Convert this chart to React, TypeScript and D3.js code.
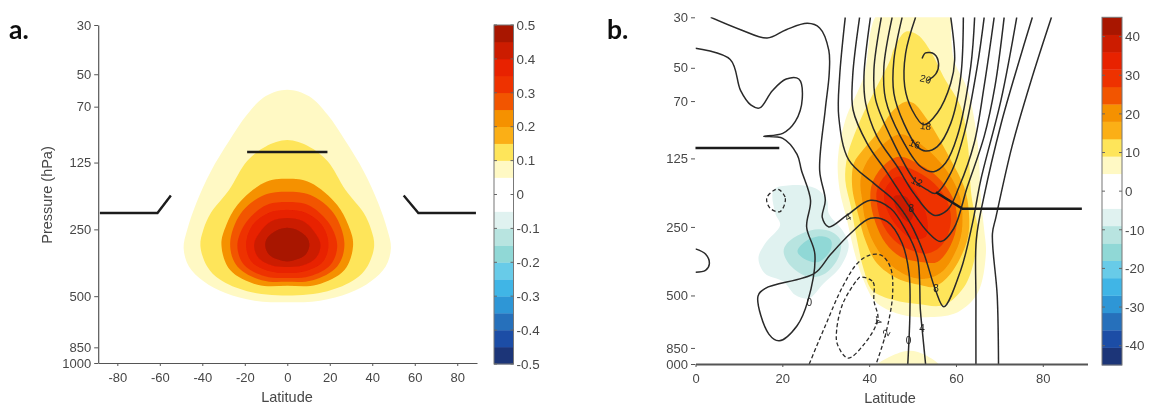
import React, { useRef, useEffect } from 'react';
import * as d3 from 'd3';

type Pt = [number, number]; // [latitude, pressure hPa]

const pressureTicks = [30, 50, 70, 125, 250, 500, 850, 1000];
const latTicksA = [-80, -60, -40, -20, 0, 20, 40, 60, 80];
const latTicksB = [0, 20, 40, 60, 80];
const barTicksA = [0.5, 0.4, 0.3, 0.2, 0.1, 0, -0.1, -0.2, -0.3, -0.4, -0.5];
const barTicksB = [40, 30, 20, 10, 0, -10, -20, -30, -40];

// colour bar, low to high
const barColors = [
  '#1a3478', '#1f4ea6', '#2870bb', '#2f96d6', '#3fb5e6', '#68cbe8', '#90d8d6', '#b8e4e0', '#e0f2f0', '#ffffff',
  '#ffffff', '#fff9c4', '#fee55a', '#fbaf17', '#f59100', '#f25500', '#ee3300', '#e82000', '#cc1c00', '#a81400',
];

// panel a: filled bands, right half only (the field is symmetric about the equator)
const bandsA: { color: string; half: Pt[] }[] = [
  { color: '#fff9c4', half: [[0, 58.7], [10.3, 62.9], [18.9, 76], [27.4, 100], [36, 137], [42.8, 190], [47.1, 251], [48.8, 303], [46.3, 367], [39.4, 428], [29.1, 484], [15.4, 524], [0, 533]] },
  { color: '#fee55a', half: [[0, 99], [10.3, 106], [18.9, 123], [27.4, 166], [36, 211], [39.5, 251], [40.9, 296], [37.7, 367], [31.7, 421], [18.9, 475], [0, 497]] },
  { color: '#f59100', half: [[0, 148], [10.9, 154], [23.5, 194], [28.7, 239], [31, 293], [26.9, 381], [14, 444], [0, 449]] },
  { color: '#f25500', half: [[0, 169], [10.9, 175], [21.9, 212], [26.9, 290], [23.5, 367], [12, 424], [0, 431]] },
  { color: '#ee3300', half: [[0, 188], [9.8, 194], [19, 230], [23.5, 293], [20.4, 361], [10.5, 407], [0, 414]] },
  { color: '#e82000', half: [[0, 204], [9, 211], [16.9, 243], [19.4, 293], [16.9, 349], [9, 385], [0, 393]] },
  { color: '#cc1c00', half: [[0, 222], [7.5, 230], [13, 259], [15.6, 293], [13.5, 336], [7.1, 364], [0, 369]] },
  { color: '#a81400', half: [[0, 246], [5.1, 253], [9.4, 273], [10.4, 296], [8.6, 325], [4.3, 342], [0, 349]] },
];
const tropopauseA: Pt[][] = [
  [[-88.2, 211], [-61.1, 211], [-54.8, 176]],
  [[-18.9, 112], [18.9, 112]],
  [[54.8, 176], [61.7, 211], [88.8, 211]],
];

// panel b: filled bands
const bandsB: { color: string; pts: Pt[] }[] = [
  { color: '#fff9c4', pts: [[42.6, 28], [38.7, 55], [34.5, 85], [32.8, 125], [33.2, 172], [34.9, 233], [36.5, 317], [38.4, 414], [41.1, 524], [44, 575], [48.8, 615], [54.2, 622], [60.4, 592], [65, 488], [66.9, 326], [66.5, 258], [65.7, 184], [65, 107], [62.7, 62.6], [59.5, 46], [58.8, 30], [58.5, 27]] },
  { color: '#fff9c4', pts: [[42, 1010], [45, 925], [49.3, 875], [53, 915], [56, 1010]] },
  { color: '#fee55a', pts: [[48.4, 34.7], [45.6, 41.7], [44.9, 46], [41, 64.5], [38.7, 79], [36.1, 104], [34.9, 124], [34.5, 156], [35.8, 204], [37.2, 285], [38.8, 387], [40.7, 474], [45.7, 524], [51.1, 545], [57.2, 551], [61.9, 458], [64.2, 350], [65, 258], [63.6, 184], [62.7, 107], [61.1, 74], [57.2, 55], [54.2, 42.4], [51.2, 35.9]] },
  { color: '#fbaf17', pts: [[48.4, 70.4], [45.6, 76.6], [41.9, 96.6], [38.5, 115], [36.5, 131], [36.1, 167], [37.6, 225], [39.1, 285], [41.8, 361], [46.5, 421], [51.8, 450], [54.9, 458], [58.8, 400], [62.6, 285], [63, 218], [61.9, 167], [58.8, 127], [55.8, 100], [53.5, 85], [50.2, 71.4]] },
  { color: '#f59100', pts: [[47.2, 98], [42.6, 111], [39.5, 129], [38, 156], [38.4, 191], [39.1, 233], [41.1, 295], [44.5, 361], [49.5, 414], [53.4, 421], [57.2, 387], [60.7, 295], [61.5, 233], [60.7, 178], [57.2, 136], [52.6, 111]] },
  { color: '#f25500', pts: [[46.9, 123], [43.4, 134], [40.7, 161], [40.3, 191], [41.5, 241], [43.8, 295], [47.2, 338], [51.9, 356], [55.7, 356], [58.8, 300], [60.2, 241], [59.5, 191], [56.1, 153], [51.9, 134]] },
  { color: '#ee3300', pts: [[46.9, 135], [43.8, 148], [41.8, 172], [41.8, 197], [43, 241], [45.7, 285], [49.5, 316], [53.4, 327], [56.8, 300], [58.8, 241], [58, 193], [55, 161], [51.1, 143]] },
  { color: '#e82000', pts: [[46.9, 150], [44.2, 164], [43.4, 184], [44.5, 218], [47.2, 258], [49.9, 281], [53, 276], [53.4, 233], [51.9, 191], [49.5, 164]] },
  { color: '#cc1c00', pts: [[45.7, 184], [46.9, 218], [49.2, 237], [50.3, 214], [48.4, 184]] },
  { color: '#e0f2f0', pts: [[21.8, 164], [18, 172], [18.4, 218], [19.5, 245], [16, 296], [14.5, 343], [16, 400], [20.3, 435], [23, 498], [26.1, 515], [29.5, 443], [33.4, 374], [35.3, 300], [33.8, 258], [30.7, 218], [30.3, 191], [27.6, 169]] },
  { color: '#b8e4e0', pts: [[28.4, 256], [24.5, 267], [21, 296], [20.3, 321], [21.8, 368], [26.1, 414], [29.9, 400], [33, 338], [33.4, 286], [31.4, 263]] },
  { color: '#90d8d6', pts: [[28.8, 275], [25.3, 290], [23.5, 321], [25.7, 350], [28.4, 356], [31.1, 316], [31.2, 286]] },
];

// panel b: solid contours of zonal wind
const contoursB: Pt[][] = [
  [[50.7, 30], [48.4, 43.2], [48.2, 60.5], [49.9, 76.6], [52.6, 89], [55.7, 79], [58.8, 58.5], [59.7, 46.2], [58.8, 30]],
  [[47.6, 30], [45.7, 46.2], [45.7, 64.7], [48, 87.7], [51.1, 111], [53, 116], [55.7, 111], [58.8, 87.7], [61.1, 54.7], [61.7, 30]],
  [[45.3, 30], [43.4, 49.4], [43.8, 69], [47.2, 100], [51.9, 136], [54.9, 143], [57.6, 131], [60.3, 100], [63.4, 49.4], [64.3, 30]],
  [[42.8, 30], [41.1, 51.1], [41.5, 69], [44.9, 100], [50.7, 158], [53.4, 172], [55.3, 178], [58.8, 145], [61.9, 97], [64.9, 49.4], [66.5, 30]],
  [[40.3, 30], [38.8, 54.7], [39.2, 71.6], [41.8, 100], [46.5, 136], [50.3, 178], [54.9, 222], [58, 211], [60.7, 167], [64.2, 107], [66.5, 60], [68.8, 30]],
  [[37.8, 30], [36.2, 54.7], [36.3, 76.6], [39.5, 107], [44.2, 145], [49.5, 207], [53.4, 262], [56.5, 290], [59.5, 254], [62.6, 167], [66.5, 100], [69, 60], [71.1, 30]],
  [[34.5, 30], [33.2, 54.7], [33, 82], [35.3, 127], [41.1, 161], [45.7, 191], [49.5, 241], [52.6, 327], [55.3, 474], [57.2, 560], [61.1, 387], [63.8, 241], [65.7, 156], [70.4, 69], [74, 30]],
  [[3.5, 30], [10.4, 34], [16.5, 37], [20.9, 34], [25.8, 31.9], [28.6, 33.4], [30.7, 41.8], [30.8, 53], [29.9, 76], [28.6, 141], [29.9, 191], [29.2, 227], [30.7, 250], [34.9, 222], [40.3, 191], [44.9, 207], [48.4, 258], [51.1, 338], [51.8, 580], [52.2, 700], [53, 1000]],
  [[0, 41], [8, 46], [10.4, 63], [12.8, 73], [14.8, 75], [17.7, 63], [20.9, 56], [23.8, 56], [24.6, 68], [23, 86], [20.1, 97], [15.7, 100], [20.1, 102], [23.4, 120], [24.4, 141], [26.5, 191], [25.6, 250], [27.5, 330], [25.9, 527], [23.4, 679], [19.3, 790], [16.9, 739], [14.4, 503], [16.1, 465], [27.4, 400], [31, 332], [35.7, 267], [40.3, 229], [44.2, 237], [47.6, 295], [49.2, 400], [49.4, 580], [48.9, 1000]],
  [[77.6, 30], [74.5, 47], [70.4, 88], [66.4, 186], [64.7, 282], [64.6, 527], [64.6, 1000]],
  [[82, 30], [77.3, 57], [72.9, 111], [69.2, 227], [68.4, 268], [69.5, 500], [69.8, 1000]],
  [[0, 312], [2.3, 329], [3.2, 363], [2.3, 388], [0, 395]],
  [[52.2, 45.5], [53, 43], [55, 43.5], [56, 48], [55.4, 53], [53.4, 57]],
];
const dashedOpenB: Pt[][] = [
  [[26.2, 1000], [29.9, 679], [33.9, 457], [37.2, 363], [40, 333], [42.8, 333], [44.9, 376], [45.4, 496], [43.8, 739], [41.6, 1000]],
];
const dashedClosedB: Pt[][] = [
  [[19.1, 171], [20.7, 187], [19.5, 214], [17.2, 207], [16.4, 187], [18, 173]],
  [[38, 415], [40.9, 437], [41.1, 527], [42, 635], [38.8, 820], [35.1, 942], [32.7, 820], [32.5, 715], [33.9, 545], [37.2, 428]],
];
const tropopauseB: Pt[][] = [
  [[0, 112.6], [19.3, 112.6]],
  [[55.4, 176], [61.5, 208], [89, 208]],
];
const contourLabels: { text: string; lat: number; p: number; angle: number }[] = [
  { text: '20', lat: 53, p: 56, angle: 15 },
  { text: '18', lat: 53, p: 90, angle: 5 },
  { text: '16', lat: 50.5, p: 108, angle: 20 },
  { text: '12', lat: 51, p: 158, angle: 25 },
  { text: '8', lat: 49.7, p: 208, angle: 0 },
  { text: '4', lat: 35.1, p: 226, angle: -30 },
  { text: '0', lat: 26.2, p: 537, angle: 0 },
  { text: '0', lat: 49.1, p: 790, angle: 0 },
  { text: '4', lat: 52.2, p: 700, angle: 0 },
  { text: '8', lat: 55.4, p: 465, angle: 0 },
  { text: '-4', lat: 42, p: 640, angle: 80 },
  { text: '-2', lat: 43.8, p: 739, angle: -60 },
];

const mirror = (half: Pt[]): Pt[] => [...half, ...half.slice(1, -1).reverse().map(([lat, p]): Pt => [-lat, p])];

const FONT = '"Liberation Sans", Arial, sans-serif';
const INK = '#474747';

const App: React.FC = () => {
  const ref = useRef<SVGSVGElement>(null);

  useEffect(() => {
    const svg = d3.select(ref.current);
    svg.selectAll('*').remove(); // clear previous render

    const defs = svg.append('defs');
    defs.append('filter').attr('id', 'soft').append('feGaussianBlur').attr('stdDeviation', 0.45);
    const root = svg.append('g').attr('filter', 'url(#soft)');

    // panel a
    const xA = d3.scaleLinear().domain([-89, 89.3]).range([98.2, 477]);
    const yA = d3.scaleLog().domain([30, 1000]).range([25, 363]);
    // panel b
    const xB = d3.scaleLinear().domain([0, 90.3]).range([695.5, 1087.5]);
    const yB = d3.scaleLog().domain([30, 1000]).range([17.3, 364]);

    const lineFor = (x: d3.ScaleLinear<number, number>, y: d3.ScaleLogarithmic<number, number>) =>
      d3.line<Pt>().x(d => x(d[0])).y(d => y(d[1]));

    const closedA = lineFor(xA, yA).curve(d3.curveCatmullRomClosed.alpha(0.5));
    root.append('g').selectAll('path').data(bandsA).enter().append('path')
      .attr('d', d => closedA(mirror(d.half)))
      .attr('fill', d => d.color);

    root.append('g').selectAll('path').data(tropopauseA).enter().append('path')
      .attr('d', d => lineFor(xA, yA)(d))
      .attr('fill', 'none').attr('stroke', '#1c1c1c').attr('stroke-width', 2.4);

    // panel b, clipped to the plot box
    defs.append('clipPath').attr('id', 'plotB').append('rect')
      .attr('x', 695.5).attr('y', 17.3).attr('width', 392).attr('height', 346.7);
    const plotB = root.append('g').attr('clip-path', 'url(#plotB)');

    const closedB = lineFor(xB, yB).curve(d3.curveCatmullRomClosed.alpha(0.5));
    const openB = lineFor(xB, yB).curve(d3.curveCatmullRom.alpha(0.5));

    plotB.append('g').selectAll('path').data(bandsB).enter().append('path')
      .attr('d', d => closedB(d.pts))
      .attr('fill', d => d.color);
    plotB.append('g').selectAll('path').data(contoursB).enter().append('path')
      .attr('d', d => openB(d))
      .attr('fill', 'none').attr('stroke', '#2a2a2a').attr('stroke-width', 1.5);
    plotB.append('g').selectAll('path').data(dashedOpenB).enter().append('path')
      .attr('d', d => openB(d))
      .attr('fill', 'none').attr('stroke', '#2a2a2a').attr('stroke-width', 1.3).attr('stroke-dasharray', '4,2.5');
    plotB.append('g').selectAll('path').data(dashedClosedB).enter().append('path')
      .attr('d', d => closedB(d))
      .attr('fill', 'none').attr('stroke', '#2a2a2a').attr('stroke-width', 1.3).attr('stroke-dasharray', '4,2.5');
    plotB.append('g').selectAll('text').data(contourLabels).enter().append('text')
      .attr('transform', d => `translate(${xB(d.lat)},${yB(d.p)}) rotate(${d.angle})`)
      .attr('text-anchor', 'middle').attr('dy', '0.35em')
      .attr('font-family', FONT).attr('font-size', 10).attr('fill', '#222')
      .text(d => d.text);

    root.append('g').selectAll('path').data(tropopauseB).enter().append('path')
      .attr('d', d => lineFor(xB, yB)(d))
      .attr('fill', 'none').attr('stroke', '#1c1c1c').attr('stroke-width', 2.6);

    // axes
    const styleAxis = (g: d3.Selection<SVGGElement, unknown, null, undefined>) => {
      g.selectAll('text').attr('font-family', FONT).attr('font-size', 13).attr('fill', INK);
      g.selectAll('line').attr('stroke', '#555');
      g.select('.domain').attr('stroke', '#555').attr('stroke-width', 1.2);
    };

    const axisLeftA = root.append('g').attr('transform', 'translate(98.2,0)')
      .call(d3.axisLeft(yA).tickValues(pressureTicks).tickFormat(d => String(d)).tickSize(4).tickPadding(3).tickSizeOuter(0));
    styleAxis(axisLeftA as any);
    const axisBottomA = root.append('g').attr('transform', 'translate(0,363)')
      .call(d3.axisBottom(xA).tickValues(latTicksA).tickFormat(d => String(d)).tickSize(3).tickPadding(7).tickSizeOuter(0));
    styleAxis(axisBottomA as any);

    const axisLeftB = root.append('g').attr('transform', 'translate(695,0)')
      .call(d3.axisLeft(yB).tickValues(pressureTicks)
        .tickFormat(d => (d === 1000 ? '000' : String(d))).tickSize(4).tickPadding(3).tickSizeOuter(0));
    styleAxis(axisLeftB as any);
    axisLeftB.select('.domain').remove();
    const axisBottomB = root.append('g').attr('transform', 'translate(0,364)')
      .call(d3.axisBottom(xB).tickValues(latTicksB).tickFormat(d => String(d)).tickSize(3).tickPadding(7).tickSizeOuter(0));
    styleAxis(axisBottomB as any);
    axisBottomB.select('.domain').attr('stroke', '#555').attr('stroke-width', 1.8);

    const title = (x: number, y: number, text: string, rotate = 0) =>
      root.append('text')
        .attr('transform', `translate(${x},${y}) rotate(${rotate})`)
        .attr('text-anchor', 'middle')
        .attr('font-family', FONT).attr('font-size', 14.5).attr('fill', INK)
        .text(text);
    title(287, 402, 'Latitude');
    title(890, 403, 'Latitude');
    title(52, 195, 'Pressure (hPa)', -90);

    root.append('text').attr('x', 9).attr('y', 39)
      .attr('font-family', 'Lato, sans-serif').attr('font-weight', 700).attr('font-size', 26.5).attr('fill', '#111').text('a.');
    root.append('text').attr('x', 607).attr('y', 39)
      .attr('font-family', 'Lato, sans-serif').attr('font-weight', 700).attr('font-size', 26.5).attr('fill', '#111').text('b.');

    // colour bars
    const drawBar = (x0: number, x1: number, y: d3.ScaleLinear<number, number>, ticks: number[]) => {
      const [lo, hi] = y.domain();
      const step = (hi - lo) / barColors.length;
      const bar = root.append('g');
      bar.selectAll('rect').data(barColors).enter().append('rect')
        .attr('x', x0).attr('width', x1 - x0)
        .attr('y', (_, i) => y(lo + (i + 1) * step))
        .attr('height', (_, i) => y(lo + i * step) - y(lo + (i + 1) * step) + 0.3)
        .attr('fill', d => d);
      bar.append('rect')
        .attr('x', x0).attr('y', y(hi)).attr('width', x1 - x0).attr('height', y(lo) - y(hi))
        .attr('fill', 'none').attr('stroke', '#777').attr('stroke-width', 1);
      const axis = root.append('g').attr('transform', `translate(${x1},0)`)
        .call(d3.axisRight(y).tickValues(ticks).tickFormat(d => String(d)).tickSize(0).tickPadding(3).tickSizeOuter(0));
      styleAxis(axis as any);
      axis.selectAll('text').attr('font-size', 13.4);
      axis.select('.domain').remove();
      bar.selectAll('path.tick').data(ticks).enter().append('path')
        .attr('d', d => `M${x0},${y(d)}h3M${x1 - 3},${y(d)}h3`)
        .attr('stroke', '#666').attr('stroke-width', 1);
    };
    drawBar(494, 513.5, d3.scaleLinear().domain([-0.5, 0.5]).range([364, 25]), barTicksA);
    drawBar(1102, 1122, d3.scaleLinear().domain([-45, 45]).range([365, 17.3]), barTicksB);
  }, []);

  return (
    <svg ref={ref} width={1149} height={405}
      style={{ position: 'absolute', left: 0, top: 0, display: 'block', background: '#fff' }} />
  );
};

export default App;
